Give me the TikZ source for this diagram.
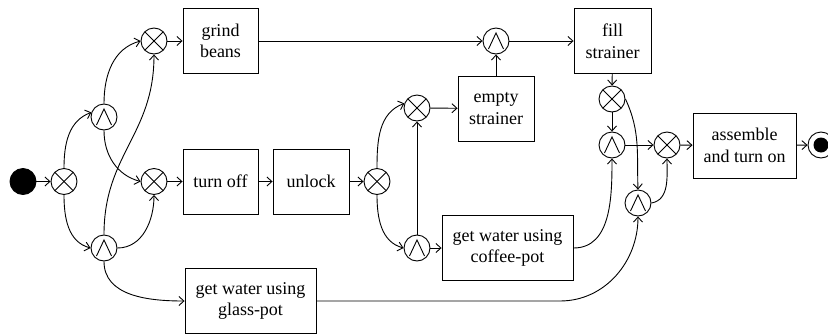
\documentclass[tikz,border=0pt]{standalone}
\usepackage{fontspec}
\setmainfont{Liberation Serif}
\usetikzlibrary{arrows.meta}
\begin{document}
\begin{tikzpicture}[x=1pt,y=-1pt,line width=0.9pt,
  >={Straight Barb[length=5pt,width=9pt]},
  box/.style={draw, minimum height=65pt, align=center, inner sep=0pt,
    font=\fontsize{18}{21.5}\selectfont},
  gw/.style={circle, draw, minimum size=26pt, inner sep=0pt},
  xorgw/.style={gw, path picture={
    \draw ([shift={(-9.2pt,-9.2pt)}]path picture bounding box.center) -- ++(18.4pt,18.4pt);
    \draw ([shift={(-9.2pt,9.2pt)}]path picture bounding box.center) -- ++(18.4pt,-18.4pt);}},
  andgw/.style={gw, path picture={
    \draw ([shift={(-7.5pt,-8pt)}]path picture bounding box.center)
      -- ([shift={(0pt,8pt)}]path picture bounding box.center)
      -- ([shift={(7.5pt,-8pt)}]path picture bounding box.center);}},
  startev/.style={circle, fill=black, draw, minimum size=26pt, inner sep=0pt},
  endev/.style={circle, draw, minimum size=26pt, inner sep=0pt,
    path picture={\fill (path picture bounding box.center) circle (7.5pt);}}
]
\clip (0,0) rectangle (828,335);
% nodes
\node[startev] (start) at (23,181.5) {};
\node[xorgw] (x1) at (64,181.5) {};
\node[andgw] (a1) at (104,117) {};
\node[andgw] (a2) at (104,248) {};
\node[xorgw] (x2) at (154,41) {};
\node[xorgw] (x3) at (154,181.5) {};
\node[box, minimum width=75pt] (grind) at (220.5,41) {grind\\beans};
\node[box, minimum width=75pt] (turnoff) at (220.5,181.5) {turn off};
\node[box, minimum width=131pt] (glass) at (250.5,301) {get water using\\glass-pot};
\node[box, minimum width=76pt] (unlock) at (311,181.5) {unlock};
\node[xorgw] (x4) at (377,181.5) {};
\node[xorgw] (x5) at (417,108) {};
\node[andgw] (a3) at (417,248) {};
\node[box, minimum width=76pt] (empty) at (496,108.5) {empty\\strainer};
\node[andgw] (atop) at (496,41) {};
\node[box, minimum width=131pt] (coffee) at (507.5,248) {get water using\\coffee-pot};
\node[box, minimum width=77pt] (fill) at (612.5,41) {fill\\strainer};
\node[xorgw] (x6) at (612,99) {};
\node[andgw] (a4) at (612,145) {};
\node[xorgw] (x7) at (667,145) {};
\node[andgw] (a5) at (638,203) {};
\node[box, minimum width=103pt] (assemble) at (744.5,145.5) {assemble\\and turn on};
\node[endev] (end) at (821,145) {};
\coordinate (gbend) at (560,301);
% connectors
\draw[->] (start) -- (x1);
\draw[->] (x1.north) to[out=90,in=-160] (a1.160);
\draw[->] (x1.south) to[out=-90,in=165] (a2.west);
\draw[->] (a1.north) to[out=90,in=-165] (x2.west);
\draw[->] (a1.south) to[out=-90,in=165] (x3.west);
\draw[->] (a2.north) to[out=90,in=-90,looseness=1.1] (x2.south);
\draw[->] (a2.east) to[out=0,in=-90] (x3.south);
\draw[->] (a2.south) to[out=-90,in=180] (glass.west);
\draw[->] (x2) -- (grind);
\draw[->] (x3) -- (turnoff);
\draw[->] (grind) -- (atop);
\draw[->] (turnoff) -- (unlock);
\draw[->] (unlock) -- (x4);
\draw[->] (x4.north) to[out=90,in=-160] (x5.160);
\draw[->] (x4.south) to[out=-90,in=165] (a3.west);
\draw[->] (a3) -- (x5);
\draw[->] (a3) -- (coffee);
\draw[->] (x5) -- (empty);
\draw[->] (empty) -- (atop);
\draw[->] (atop) -- (fill);
\draw[->] (fill) -- (x6);
\draw[->] (x6) -- (a4);
\draw[->] (x6.east) to[out=-65,in=92] (a5.north);
\draw[->] (coffee.east) to[out=0,in=-90] (a4.south);
\draw[->] (glass.east) -- (gbend) to[out=0,in=-90] (a5.south);
\draw[->] (a4) -- (x7);
\draw[->] (a5.east) to[out=10,in=-90] (x7.south);
\draw[->] (x7) -- (assemble);
\draw[->] (assemble) -- (end);
\end{tikzpicture}
\end{document}
